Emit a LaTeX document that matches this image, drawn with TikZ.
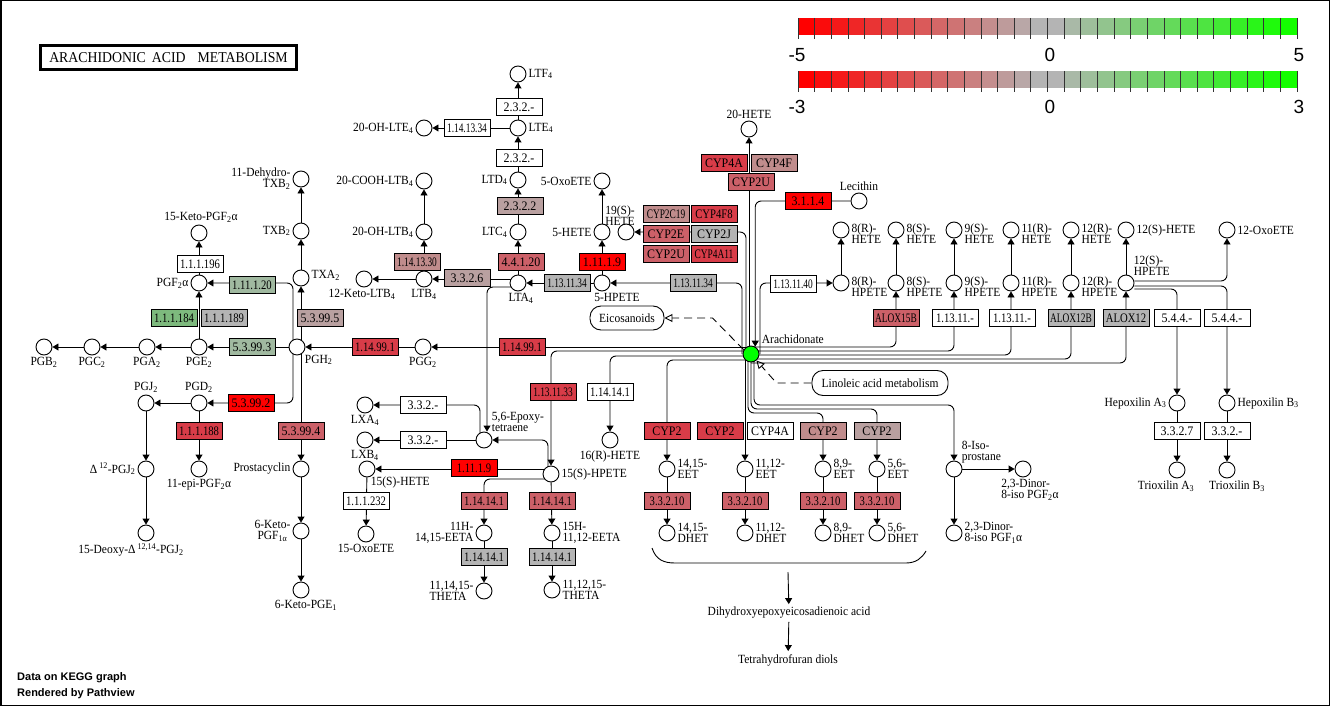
\documentclass[tikz,border=0pt]{standalone}
\usepackage{fontspec}
\setmainfont{Liberation Serif}[FakeStretch=0.92]
\newfontfamily\sansfont{Liberation Sans}
\newfontfamily\midfont{Liberation Serif}[FakeStretch=0.82]
\newfontfamily\condfont{Liberation Serif}[FakeStretch=0.72]
\usepackage{xcolor}
\usepackage{tikz}
\usetikzlibrary{arrows.meta,backgrounds}
\newcommand{\sbs}[1]{\textsubscript{#1}}
\newcommand{\sps}[1]{\textsuperscript{#1}}
\definecolor{cRed}{RGB}{255,0,0}
\definecolor{cR1}{RGB}{216,60,72}
\definecolor{cR2}{RGB}{204,96,104}
\definecolor{cR3}{RGB}{192,140,140}
\definecolor{cR4}{RGB}{185,160,160}
\definecolor{cGray}{RGB}{180,180,180}
\definecolor{cG1}{RGB}{160,185,160}
\definecolor{cG2}{RGB}{125,185,125}
\definecolor{cArach}{RGB}{0,255,0}
\definecolor{barRed}{RGB}{255,0,0}
\definecolor{barGray}{RGB}{180,180,180}
\definecolor{barGreen}{RGB}{20,255,0}

\begin{document}
\begin{tikzpicture}[x=1pt, y=-1pt,
    cpd/.style={circle, draw, fill=white, minimum size=16pt, inner sep=0pt, line width=0.9pt},
    enz/.style={rectangle, draw, fill=#1, minimum width=46pt, minimum height=17pt, inner sep=0pt, line width=0.9pt, font=\fontsize{13}{12}\selectfont},
    enz/.default=white,
    enzm/.style={enz=#1, font=\fontsize{13}{12}\selectfont\midfont},
    enzm/.default=white,
    enzc/.style={enz=#1, font=\fontsize{13}{12}\selectfont\condfont},
    enzc/.default=white,
    every label/.style={font=\fontsize{12.5}{11}\selectfont, inner sep=1pt},
    label distance=1pt,
    ln/.style={line width=0.9pt},
    arr/.style={ln, -{Triangle[width=7pt,length=6pt]}},
    rc/.style={rounded corners=6pt},
    mapbox/.style={rectangle, rounded corners=11pt, draw, fill=white, line width=0.9pt, font=\fontsize{12.5}{12}\selectfont},
    maparr/.style={ln, dash pattern=on 8pt off 5pt, -{Triangle[open,width=8pt,length=8pt]}},
    txt/.style={font=\fontsize{12.5}{12}\selectfont, inner sep=3pt},
    barlbl/.style={font=\fontsize{19}{20}\sansfont, inner sep=0pt}
]
\useasboundingbox (0,0) rectangle (1330,706);
\draw[line width=1.5pt] (0.75,0.75) rectangle (1329.25,705.25);

% title and footer
\node[draw, line width=3pt, minimum width=256pt, minimum height=24pt, inner sep=0pt, font=\fontsize{15}{15}\selectfont] (title) at (168.5,57.5) {ARACHIDONIC\hspace{6pt}ACID\hspace{12pt}METABOLISM};
\node[font=\fontsize{11}{16}\sansfont\bfseries, align=left, anchor=north west, inner sep=0pt] (footer) at (17,672) {Data on KEGG graph\\Rendered by Pathview};

% colour keys
\foreach \i in {0,...,29} {
  \pgfmathsetmacro{\xa}{798+\i*16.633}
  \pgfmathsetmacro{\xb}{\xa+16.633}
  \ifnum\i<15 \pgfmathtruncatemacro{\p}{round(\i/14*100)}\colorlet{segc}{barGray!\p!barRed}
  \else \pgfmathtruncatemacro{\p}{round((\i-15)/14*100)}\colorlet{segc}{barGreen!\p!barGray}\fi
  \fill[segc] (\xa,18) rectangle (\xb,35);
  \fill[segc] (\xa,71) rectangle (\xb,88);
}
\foreach \i in {0,...,30} {
  \pgfmathsetmacro{\xa}{798+\i*16.633}
  \draw[line width=0.8pt, black!80] (\xa,18) -- (\xa,39);
  \draw[line width=0.8pt, black!80] (\xa,71) -- (\xa,92);
}
\node[barlbl] (lo1) at (797,55) {-5};
\node[barlbl] (mid1) at (1050,55) {0};
\node[barlbl] (hi1) at (1299,55) {5};
\node[barlbl] (lo2) at (797,107) {-3};
\node[barlbl] (mid2) at (1050,107) {0};
\node[barlbl] (hi2) at (1299,107) {3};

% prostaglandins
\node[cpd, label={[align=right]left:11-Dehydro-\\TXB\sbs{2}}] (dhtxb2) at (301,179) {};
\node[cpd, label=left:TXB\sbs{2}] (txb2) at (301,231) {};
\node[cpd, label={[xshift=2pt]above:15-Keto-PGF\sbs{2}α}] (ketopgf) at (199,233) {};
\node[cpd, label=left:PGF\sbs{2}α] (pgf2a) at (199,283) {};
\node[cpd, label={[yshift=3pt]right:TXA\sbs{2}}] (txa2) at (301,278) {};
\node[cpd, label=below right:PGH\sbs{2}] (pgh2) at (297,347) {};
\node[cpd, label=below:PGE\sbs{2}] (pge2) at (199,347) {};
\node[cpd, label=below:PGA\sbs{2}] (pga2) at (147,347) {};
\node[cpd, label=below:PGC\sbs{2}] (pgc2) at (92,347) {};
\node[cpd, label=below:PGB\sbs{2}] (pgb2) at (44,347) {};
\node[cpd, label=above:PGD\sbs{2}] (pgd2) at (199,403) {};
\node[cpd, label=above:PGJ\sbs{2}] (pgj2) at (146,403) {};
\node[cpd, label=left:{Δ\,\sps{12}-PGJ\sbs{2}}] (d12pgj2) at (146,469) {};
\node[cpd, label={[xshift=-15pt]below:{15-Deoxy-Δ\,\sps{12,14}-PGJ\sbs{2}}}] (dpgj2) at (146,533) {};
\node[cpd, label=below:11-epi-PGF\sbs{2}α] (epipgf) at (199,469) {};
\node[cpd, label=left:Prostacyclin] (pgi2) at (301,469) {};
\node[cpd, label={[align=center]left:6-Keto-\\PGF\sbs{1α}}] (ketof1a) at (301,531) {};
\node[cpd, label={[xshift=5pt]below:6-Keto-PGE\sbs{1}}] (ketoe1) at (301,590) {};

% leukotrienes
\node[cpd, label=right:LTF\sbs{4}] (ltf4) at (518,74) {};
\node[cpd, label=right:LTE\sbs{4}] (lte4) at (518,128) {};
\node[cpd, label=left:20-OH-LTE\sbs{4}] (ohlte4) at (424,128) {};
\node[cpd, label=left:LTD\sbs{4}] (ltd4) at (518,180) {};
\node[cpd, label=left:LTC\sbs{4}] (ltc4) at (518,232) {};
\node[cpd, label=left:20-COOH-LTB\sbs{4}] (coohltb4) at (424,181) {};
\node[cpd, label=left:20-OH-LTB\sbs{4}] (ohltb4) at (424,232) {};
\node[cpd, label=below:LTB\sbs{4}] (ltb4) at (424,279) {};
\node[cpd, label={[xshift=-2pt]below:12-Keto-LTB\sbs{4}}] (ketoltb4) at (364,279) {};
\node[cpd, label={[xshift=3pt]below:LTA\sbs{4}}] (lta4) at (518,283) {};
\node[cpd, label=left:5-OxoETE] (oxoete5) at (602,181) {};
\node[cpd, label=left:5-HETE] (hete5) at (602,232) {};
\node[cpd, label={[xshift=-6pt, yshift=-4pt, align=center]above:19(S)-\\HETE}] (hete19) at (626,232) {};
\node[cpd, label={[xshift=15pt]below:5-HPETE}] (hpete5) at (602,283) {};
\node[cpd, label=below:PGG\sbs{2}] (pgg2) at (423,347) {};

% lipoxins and 15-LOX products
\node[cpd, label=below:LXA\sbs{4}] (lxa4) at (365,405) {};
\node[cpd, label=below:LXB\sbs{4}] (lxb4) at (365,440) {};
\node[cpd, label={[align=left]above right:{5,6-Epoxy-\\tetraene}}] (epoxy) at (484,440) {};
\node[cpd, label=below:16(R)-HETE] (hete16) at (610,440) {};
\node[cpd, label={[xshift=-4pt]below right:15(S)-HETE}] (hete15) at (367,469) {};
\node[cpd, label=right:15(S)-HPETE] (hpete15) at (551,474) {};
\node[cpd, label=below:15-OxoETE] (oxoete15) at (366,534) {};
\node[cpd, label={[align=right]left:{11H-\\14,15-EETA}}] (eeta11) at (484,533) {};
\node[cpd, label={[align=left]right:{15H-\\11,12-EETA}}] (eeta15) at (552,533) {};
\node[cpd, label={[align=left]left:{11,14,15-\\THETA}}] (theta1) at (484,591) {};
\node[cpd, label={[align=left]right:{11,12,15-\\THETA}}] (theta2) at (552,590) {};

% arachidonate and neighbours
\node[cpd, fill=cArach, label={[xshift=3pt, yshift=2pt]above right:Arachidonate}] (arach) at (751,354) {};
\node[cpd, label=above:20-HETE] (hete20) at (749,129) {};
\node[cpd, label=above:Lecithin] (lecithin) at (859,201) {};
\foreach \xx/\lab/\nm in {841/8(R)/8r, 896/8(S)/8s, 954/9(S)/9s, 1011/11(R)/11r, 1071/12(R)/12r}{
  \node[cpd, label={[align=left, yshift=-4pt]right:\lab-\\HETE}] (hete\nm) at (\xx,230) {};
  \node[cpd, label={[align=left, yshift=-4pt]right:\lab-\\HPETE}] (hpete\nm) at (\xx,283) {};
}
\node[cpd, label=right:12(S)-HETE] (hete12s) at (1126,230) {};
\node[cpd, label=right:12-OxoETE] (oxoete12) at (1227,230) {};
\node[cpd, label={[align=left]above right:12(S)-\\HPETE}] (hpete12s) at (1126,283) {};
\node[cpd, label=left:Hepoxilin A\sbs{3}] (hepoxA3) at (1177,403) {};
\node[cpd, label=right:Hepoxilin B\sbs{3}] (hepoxB3) at (1227,403) {};
\node[cpd, label={[xshift=-11pt]below:Trioxilin A\sbs{3}}] (trioxA3) at (1177,470) {};
\node[cpd, label={[xshift=10pt]below:Trioxilin B\sbs{3}}] (trioxB3) at (1227,470) {};
\foreach \xx/\lab/\nm in {667/{14,15}/a, 745/{11,12}/b, 823/{8,9}/c, 877/{5,6}/d}{
  \node[cpd, label={[align=left]right:{\lab-\\EET}}] (eet\nm) at (\xx,469) {};
  \node[cpd, label={[align=left]right:{\lab-\\DHET}}] (dhet\nm) at (\xx,533) {};
}
\node[cpd, label={[align=left, yshift=-2pt]above right:8-Iso-\\prostane}] (isop) at (954,469) {};
\node[cpd, label={[align=left, xshift=7pt]below:{2,3-Dinor-\\8-iso PGF\sbs{2}α}}] (dinorf2a) at (1023,469) {};
\node[cpd, label={[align=left]right:{2,3-Dinor-\\8-iso PGF\sbs{1}α}}] (dinorf1a) at (954,533) {};

% maps and plain texts
\node[mapbox, minimum width=74pt, minimum height=24pt] (eico) at (627,318) {Eicosanoids};
\node[mapbox, minimum width=136pt, minimum height=25pt] (linol) at (880,383) {Linoleic acid metabolism};
\node[txt] (dihydroxy) at (789,613) {Dihydroxyepoxyeicosadienoic acid};
\node[txt] (thf) at (788,660) {Tetrahydrofuran diols};

% enzymes
\node[enzm] (ec111196) at (200,264) {1.1.1.196};
\node[enzm=cG1] (ec111120) at (252,285) {1.11.1.20};
\node[enzm=cG2] (ec111184) at (174,318) {1.1.1.184};
\node[enzm=cGray] (ec111189) at (224,318) {1.1.1.189};
\node[enz=cG1] (ec53993) at (252,347) {5.3.99.3};
\node[enz=cR4] (ec53995) at (320,318) {5.3.99.5};
\node[enz=cRed] (ec53992) at (251,403) {5.3.99.2};
\node[enzm=cR1] (ec111188) at (199,431) {1.1.1.188};
\node[enz=cR2] (ec53994) at (301,431) {5.3.99.4};
\node[enzm=cR1] (ec114991a) at (375,347) {1.14.99.1};
\node[enzm=cR1] (ec114991b) at (522,347) {1.14.99.1};
\node[enzc=cR3] (ec1141330) at (417,262) {1.14.13.30};
\node[enz=cR4] (ec3326) at (467,278) {3.3.2.6};
\node[enz=cR2] (ec44120) at (521,262) {4.4.1.20};
\node[enzc=cGray] (ec1131134a) at (567,283) {1.13.11.34};
\node[enz=cRed] (ec11119a) at (602,262) {1.11.1.9};
\node[enz=cR4] (ec2322) at (520,206) {2.3.2.2};
\node[enz] (ec232a) at (519,158) {2.3.2.-};
\node[enz] (ec232b) at (519,107) {2.3.2.-};
\node[enzc] (ec1141334) at (467,128) {1.14.13.34};
\node[enzc=cGray] (ec1131134b) at (693,283) {1.13.11.34};
\node[enzc=cR3] (cyp2c19) at (666,214) {CYP2C19};
\node[enzm=cR1] (cyp4f8) at (714,214) {CYP4F8};
\node[enz=cR2] (cyp2e) at (666,234) {CYP2E};
\node[enz=cGray] (cyp2j) at (714,234) {CYP2J};
\node[enz=cR2] (cyp2ua) at (666,254) {CYP2U};
\node[enzc=cR1] (cyp4a11) at (714,254) {CYP4A11};
\node[enz=cR1] (cyp4aa) at (724,163) {CYP4A};
\node[enz=cR3] (cyp4f) at (774,163) {CYP4F};
\node[enz=cR2] (cyp2ub) at (751,182) {CYP2U};
\node[enz=cRed] (ec3114) at (808,201) {3.1.1.4};
\node[enzc] (ec1131140) at (793,284) {1.13.11.40};
\node[enzc=cR2] (alox15b) at (896,318) {ALOX15B};
\node[enzm] (ec11311a) at (955,318) {1.13.11.-};
\node[enzm] (ec11311b) at (1012,318) {1.13.11.-};
\node[enzc=cGray] (alox12b) at (1071,318) {ALOX12B};
\node[enzm=cGray] (alox12) at (1126,318) {ALOX12};
\node[enz] (ec544a) at (1177,318) {5.4.4.-};
\node[enz] (ec544b) at (1227,318) {5.4.4.-};
\node[enz] (ec3327) at (1177,431) {3.3.2.7};
\node[enz] (ec332c) at (1227,431) {3.3.2.-};
\node[enz=cR1] (cyp2a) at (667,431) {CYP2};
\node[enz=cR1] (cyp2b) at (720,431) {CYP2};
\node[enz] (cyp4ab) at (770,431) {CYP4A};
\node[enz=cR3] (cyp2c) at (823,431) {CYP2};
\node[enz=cR4] (cyp2d) at (877,431) {CYP2};
\foreach \xx/\nm in {667/a, 745/b, 823/c, 877/d}
  \node[enzm=cR2] (ec33210\nm) at (\xx,501) {3.3.2.10};
\node[enzc=cR1] (ec1131133) at (553,392) {1.13.11.33};
\node[enzm] (ec114141a) at (610,392) {1.14.14.1};
\node[enz] (ec332a) at (423,405) {3.3.2.-};
\node[enz] (ec332b) at (423,440) {3.3.2.-};
\node[enzm=cRed] (ec11119b) at (474,468) {1.11.1.9};
\node[enzm] (ec111232) at (366,501) {1.1.1.232};
\node[enzm=cR2] (ec114141b) at (484,501) {1.14.14.1};
\node[enzm=cR2] (ec114141c) at (552,501) {1.14.14.1};
\node[enzm=cGray] (ec114141d) at (484,557) {1.14.14.1};
\node[enzm=cGray] (ec114141e) at (552,557) {1.14.14.1};

\begin{scope}[on background layer]
% prostaglandin branch
\draw[arr] (pgh2) -- (pge2);
\draw[arr] (pge2) -- (pga2);
\draw[arr] (pga2) -- (pgc2);
\draw[arr] (pgc2) -- (pgb2);
\draw[arr] (pge2) -- (pgf2a);
\draw[arr] (pgf2a) -- (ketopgf);
\draw[arr, rc] ([xshift=-4pt]pgh2.center) |- (pgf2a);
\draw[arr, rc] ([xshift=-4pt]pgh2.center) |- (pgd2);
\draw[arr] ([xshift=4pt]pgh2.center) -- (txa2);
\draw[arr] (txa2) -- (txb2);
\draw[arr] (txb2) -- (dhtxb2);
\draw[arr] ([xshift=4pt]pgh2.center) -- (pgi2);
\draw[arr] (pgi2) -- (ketof1a);
\draw[arr] (ketof1a) -- (ketoe1);
\draw[arr] (pgd2) -- (pgj2);
\draw[arr] (pgd2) -- (epipgf);
\draw[arr] (pgj2) -- (d12pgj2);
\draw[arr] (d12pgj2) -- (dpgj2);
\draw[arr] (pgg2) -- (pgh2);
\draw[arr] ([yshift=7pt]arach.center) -- (pgg2);
% leukotriene branch
\draw[arr] (hpete5) -- (lta4);
\draw[arr] ([yshift=4pt]lta4.center) -- (ltb4);
\draw[arr] (ltb4) -- (ketoltb4);
\draw[arr] (ltb4) -- (ohltb4);
\draw[arr] (ohltb4) -- (coohltb4);
\draw[arr] (lta4) -- (ltc4);
\draw[arr] (ltc4) -- (ltd4);
\draw[arr] (ltd4) -- (lte4);
\draw[arr] (lte4) -- (ltf4);
\draw[arr] (lte4) -- (ohlte4);
\draw[arr] (hpete5) -- (hete5);
\draw[arr] (hete5) -- (oxoete5);
\draw[arr, rc] ([xshift=-9pt]arach.center) |- (hpete5);
\draw[arr, rc] ([xshift=-5pt]arach.center) |- (hete19);
\draw[arr] ([xshift=-2pt]arach.center) -- (hete20);
\draw[arr, rc] (lecithin) -| (arach.60);
% lipoxygenase branch
\draw[arr, rc] ([xshift=9pt]arach.center) |- (hpete8r);
\draw[arr, rc] ([yshift=7pt]arach.center) -| (hpete8s);
\draw[arr, rc] ([yshift=3pt]arach.center) -| (hpete9s);
\draw[arr, rc] ([yshift=-1pt]arach.center) -| (hpete11r);
\draw[arr, rc] ([yshift=-5pt]arach.center) -| (hpete12r);
\draw[arr, rc] ([yshift=-9pt]arach.center) -| (hpete12s);
\foreach \nm in {8r, 8s, 9s, 11r, 12r, 12s}
  \draw[arr] (hpete\nm) -- (hete\nm);
\draw[arr, rc] ([yshift=2pt]hpete12s.east) -| (oxoete12);
\draw[arr, rc] ([yshift=-3pt]hpete12s.east) -| (hepoxB3);
\draw[arr, rc] ([yshift=-6pt]hpete12s.east) -| (hepoxA3);
\draw[arr] (hepoxA3) -- (trioxA3);
\draw[arr] (hepoxB3) -- (trioxB3);
% 15-LOX and CYP branches
\draw[arr, rc] ([yshift=3pt]arach.center) -| (hpete15);
\draw[arr, rc] ([yshift=-2pt]arach.center) -| (hete16);
\draw[arr, rc] ([yshift=-6pt]arach.center) -| (eeta);
\draw[arr] ([xshift=-6pt]arach.center) -- (eetb);
\draw[arr, rc] ([xshift=-3pt]arach.center) |- ([yshift=56pt]eetc.center) -- (eetc);
\draw[arr, rc] (arach.center) |- ([yshift=60pt]eetd.center) -- (eetd);
\draw[arr, rc] ([xshift=3pt]arach.center) |- ([yshift=64pt]isop.center) -- (isop);
\foreach \nm in {a, b, c, d}
  \draw[arr] (eet\nm) -- (dhet\nm);
\draw[arr] (isop) -- (dinorf2a);
\draw[arr] (isop) -- (dinorf1a);
\draw[arr] ([yshift=5pt]hpete15.center) -- (hete15);
\draw[arr] (hete15) -- (oxoete15);
\draw[arr, rc] ([yshift=-5pt]hpete15.center) -| (eeta11);
\draw[arr] (hpete15) -- (eeta15);
\draw[arr] (eeta11) -- (theta1);
\draw[arr] (eeta15) -- (theta2);
\draw[arr, rc] ([xshift=-3pt]hpete15.center) |- (epoxy);
\draw[arr, rc] ([yshift=-4pt]lta4.center) -| ([xshift=3pt]epoxy.north);
\draw[arr, rc] ([xshift=-4pt]epoxy.center) |- (lxa4);
\draw[arr] (epoxy) -- (lxb4);
% map links
\draw[maparr] (arach.150) -- ([xshift=48pt]eico.east) -- (eico.east);
\draw[maparr] (linol.west) -- ([xshift=-35pt]linol.west) -- (arach.310);
% DHET bracket
\coordinate (brL) at (652,548);
\coordinate (brR) at (926,551);
\coordinate (brM) at (788,572);
\draw[ln] (brL) .. controls (656,560) and (664,563) .. (675,563) -- (906,563) .. controls (916,563) and (922,558) .. (brR);
\draw[arr] (brM) -- (dihydroxy);
\draw[arr] (dihydroxy) -- (thf);
\end{scope}
\end{tikzpicture}
\end{document}
